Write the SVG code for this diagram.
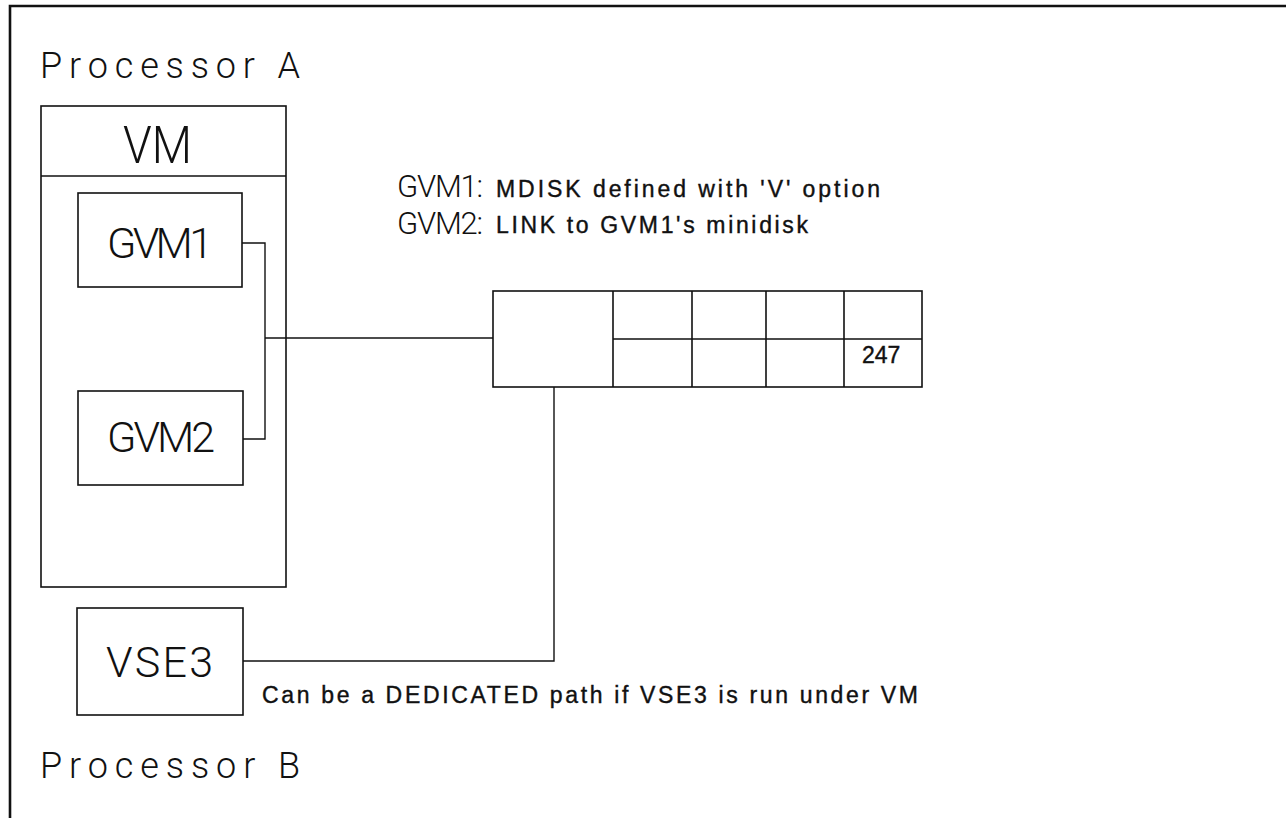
<svg xmlns="http://www.w3.org/2000/svg" width="1286" height="818" viewBox="0 0 1286 818">
<style>
.box{fill:none;stroke:#111;stroke-width:1.6}
.ln{fill:none;stroke:#111;stroke-width:1.4}
.thin{font-family:Roboto,"DejaVu Sans",sans-serif;font-weight:300;fill:#111}
.note{font-family:"Liberation Sans",Arial,sans-serif;font-size:23px;fill:#111;stroke:#111;stroke-width:0.4}
</style>
<rect width="1286" height="818" fill="#fff"/>
<g id="frame">
<path d="M10 818 V6 H1286" fill="none" stroke="#111" stroke-width="2.6"/>
</g>
<g id="processorA">
<text class="thin" x="40" y="78" font-size="36" textLength="260" lengthAdjust="spacing">Processor A</text>
</g>
<g id="vm">
<rect class="box" x="41" y="106" width="245" height="481"/>
<line class="box" x1="41" y1="176" x2="286" y2="176"/>
<text class="thin" x="123" y="163" font-size="52" textLength="69" lengthAdjust="spacingAndGlyphs">VM</text>
</g>
<g id="gvm1">
<rect class="box" x="78" y="193" width="164" height="94"/>
<text class="thin" x="107" y="258" font-size="43" textLength="106" lengthAdjust="spacing">GVM1</text>
</g>
<g id="gvm2">
<rect class="box" x="78" y="391" width="165" height="94"/>
<text class="thin" x="107" y="452" font-size="43" textLength="108" lengthAdjust="spacing">GVM2</text>
</g>
<g id="vse3">
<rect class="box" x="77" y="608" width="166" height="107"/>
<text class="thin" x="106" y="677" font-size="43" textLength="107" lengthAdjust="spacing">VSE3</text>
</g>
<g id="processorB">
<text class="thin" x="40" y="778" font-size="36" textLength="260" lengthAdjust="spacing">Processor B</text>
</g>
<g id="disk">
<rect class="box" x="493" y="291" width="429" height="96"/>
<path class="box" d="M613 291 V387 M692 291 V387 M766 291 V387 M844 291 V387 M613 339 H922"/>
<text class="note" x="862" y="363" font-size="20" stroke-width="0.2">247</text>
</g>
<g id="legend">
<text class="thin" x="397" y="197" font-size="31" textLength="86" lengthAdjust="spacing">GVM1:</text>
<text class="note" x="496" y="197" textLength="384" lengthAdjust="spacing">MDISK defined with 'V' option</text>
<text class="thin" x="397" y="234" font-size="31" textLength="86" lengthAdjust="spacing">GVM2:</text>
<text class="note" x="496" y="233" textLength="312" lengthAdjust="spacing">LINK to GVM1's minidisk</text>
<text class="note" x="262" y="703" textLength="656" lengthAdjust="spacing">Can be a DEDICATED path if VSE3 is run under VM</text>
</g>
<g id="connectors">
<path class="ln" d="M242 243 H265 V439 H243"/>
<path class="ln" d="M265 338 H493"/>
<path class="ln" d="M554 387 V661 H243"/>
</g>
</svg>
